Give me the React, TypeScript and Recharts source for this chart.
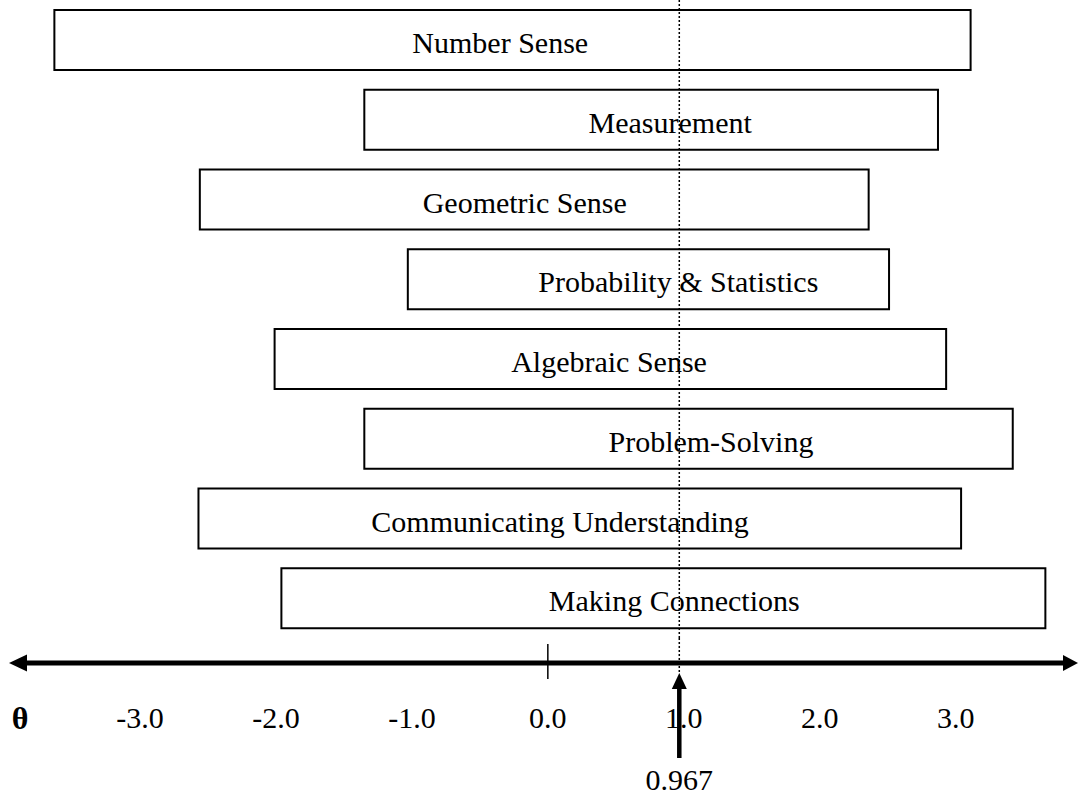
import { BarChart, Bar, XAxis, YAxis, ReferenceLine, LabelList } from 'recharts';

const strands = [
  'Number Sense',
  'Measurement',
  'Geometric Sense',
  'Probability & Statistics',
  'Algebraic Sense',
  'Problem-Solving',
  'Communicating Understanding',
  'Making Connections',
];
const lowTheta = [-3.63, -1.35, -2.56, -1.03, -2.01, -1.35, -2.57, -1.96];
const highTheta = [3.11, 2.87, 2.36, 2.51, 2.93, 3.42, 3.04, 3.66];
// where each strand's name sits along the theta scale
const labelTheta = [-0.35, 0.9, -0.17, 0.96, 0.45, 1.2, 0.09, 0.93];
const thetaTicks = [-3, -2, -1, 0, 1, 2, 3];
const cutScore = 0.967;

const data = strands.map((name, i) => ({ name, range: [lowTheta[i], highTheta[i]] }));

const FONT = '"Liberation Serif", "Times New Roman", serif';

function ThetaTick(props: any) {
  const { x, y, payload } = props;
  const axisY = y + 25;
  return (
    <g>
      {payload.value === 0 && (
        <line x1={x} x2={x} y1={axisY - 19} y2={axisY + 16} stroke="#000" strokeWidth={1.5} />
      )}
      <text x={x} y={y + 90} textAnchor="middle" fontFamily={FONT} fontSize={30} fill="#000">
        {payload.value.toFixed(1)}
      </text>
    </g>
  );
}

function AxisArrow(props: any) {
  const { x, y, width } = props.viewBox;
  const axisY = y + 25;
  const left = x + 9;
  const right = x + width;
  return (
    <g>
      <line x1={left + 12} x2={right - 10} y1={axisY} y2={axisY} stroke="#000" strokeWidth={5} />
      <polygon points={`${left},${axisY} ${left + 18},${axisY - 8.5} ${left + 18},${axisY + 8.5}`} fill="#000" />
      <polygon points={`${right},${axisY} ${right - 15},${axisY - 8} ${right - 15},${axisY + 8}`} fill="#000" />
      <text x={x + 20} y={y + 91} textAnchor="middle" fontFamily={FONT} fontSize={32} fontWeight="bold" fill="#000">
        θ
      </text>
    </g>
  );
}

function CutArrow(props: any) {
  const { x, y, height } = props.viewBox;
  const bottom = y + height;
  const tip = bottom + 35;
  return (
    <g>
      <line x1={x} x2={x} y1={bottom} y2={tip} stroke="#000" strokeWidth={1.5} strokeDasharray="2 2" />
      <polygon points={`${x},${tip} ${x - 7.5},${tip + 16} ${x + 7.5},${tip + 16}`} fill="#000" />
      <line x1={x} x2={x} y1={tip + 14} y2={bottom + 120} stroke="#000" strokeWidth={4.5} />
      <text x={x} y={bottom + 152} textAnchor="middle" fontFamily={FONT} fontSize={30} fill="#000">
        {cutScore.toFixed(3)}
      </text>
    </g>
  );
}

function StrandLabel(props: any) {
  const { x, y, width, height, index } = props;
  const lo = lowTheta[index];
  const hi = highTheta[index];
  const cx = x + (width * (labelTheta[index] - lo)) / (hi - lo);
  return (
    <text x={cx} y={y + height / 2 + 13} textAnchor="middle" fontFamily={FONT} fontSize={30} fill="#000">
      {strands[index]}
    </text>
  );
}

export default function App() {
  return (
    <div style={{ position: 'absolute', left: 0, top: 0, background: '#fff' }}>
      <BarChart
        width={1078}
        height={799}
        data={data}
        layout="vertical"
        margin={{ top: 0, right: 0, bottom: 0, left: 0 }}
      >
        <XAxis
          type="number"
          domain={[-4.03, 3.9]}
          ticks={thetaTicks}
          axisLine={false}
          tickLine={false}
          tickSize={0}
          tickMargin={0}
          height={161}
          tick={<ThetaTick />}
          label={<AxisArrow />}
          interval={0}
        />
        <YAxis type="category" dataKey="name" hide />
        <Bar dataKey="range" barSize={60} fill="#fff" stroke="#000" strokeWidth={2} isAnimationActive={false}>
          <LabelList dataKey="name" content={<StrandLabel />} />
        </Bar>
        <ReferenceLine
          x={cutScore}
          stroke="#000"
          strokeWidth={1.5}
          strokeDasharray="2 2"
          label={<CutArrow />}
        />
      </BarChart>
    </div>
  );
}
